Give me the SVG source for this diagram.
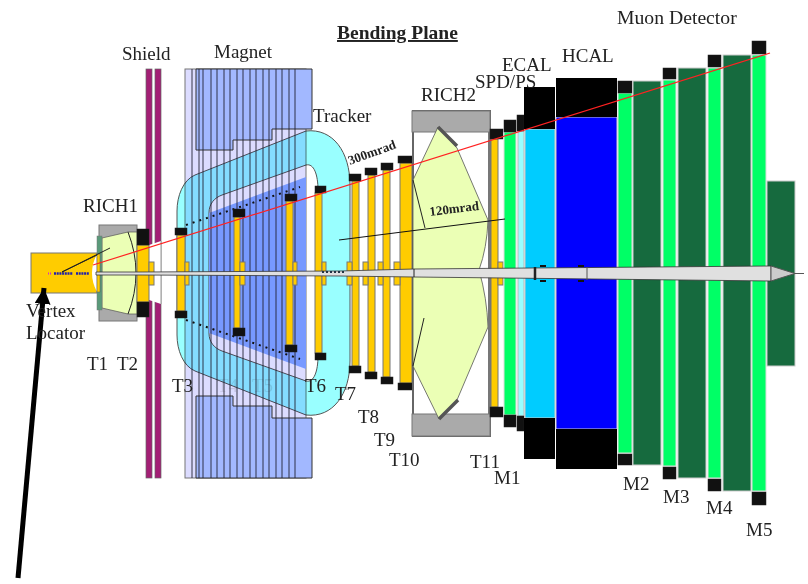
<svg xmlns="http://www.w3.org/2000/svg" width="808" height="584" viewBox="0 0 808 584">
<style>
text{font-family:"Liberation Serif","Times New Roman",serif;font-size:19px;fill:#222}
.y{fill:#fc0;stroke:#777;stroke-width:1}
.k{fill:#111;stroke:#222;stroke-width:.5}
.g{fill:#0f6;stroke:#ddd;stroke-width:1}
.d{fill:#166a3e;stroke:#ccc;stroke-width:1}
.p{fill:#a31f75;stroke:#666;stroke-width:.7}
.ln{fill:none;stroke:#222;stroke-width:1}
.b{font-weight:bold}
</style>
<defs>
<marker id="head" markerUnits="userSpaceOnUse" markerWidth="18" markerHeight="18" refX="16" refY="8" orient="auto"><path d="M0 0L16 8L0 16Z" fill="#000"/></marker>
</defs>
<rect width="808" height="584" fill="#fff"/>
<g id="shield">
<rect class="p" x="146" y="69" width="6" height="409"/>
<rect class="p" x="155" y="69" width="6" height="409"/>
<path d="M149 245L161 241V304L149 300Z" fill="#fff"/>
<path d="M161 241V304" stroke="#999" fill="none"/>
</g>
<g id="tracker">
<path fill-rule="evenodd" fill="#9ff" stroke="#555" stroke-width="1" d="M306 131C333 128 350 152 350 185L350 361C350 394 333 418 306 415L195 371C183 366 177 350 177 335L177 211C177 196 183 180 195 175ZM306 165C314 163 318 175 318 190L318 356C318 371 314 383 306 381L222 351C214 348 209 342 209 333L209 213C209 204 214 198 222 195Z"/>
</g>
<g id="magnet" style="mix-blend-mode:multiply">
<rect x="185" y="69" width="121" height="409" fill="#dcdcff" stroke="#777"/>
<path d="M196 69V150H233V140H272V129H312V69Z" fill="#a2b8ff" stroke="#333"/>
<path d="M196 478V396H233V406H272V418H312V478Z" fill="#a2b8ff" stroke="#333"/>
</g>
<path id="inner-blue" d="M209 213L306 177V369L209 333Z" fill="#7799ff"/>
<path id="stripes" fill="none" stroke="#223" stroke-width=".9" d="M192 69V478M199 69V478M203 69V478M211 69V478M217 69V478M224 69V478M230 69V478M237 69V478M243 69V478M250 69V478M256 69V478M263 69V478M269 69V478M276 69V478M282 69V478M289 69V478M295 69V478"/>
<path id="dots" fill="none" stroke="#111" stroke-width="2" stroke-dasharray="2 5" d="M186 225L300 187M186 320L300 359"/>
<g id="vertex-locator">
<rect x="31" y="253" width="66" height="40" fill="#fc0" stroke="#777"/>
<path d="M97 254Q87 273 97 292Z" fill="#fff"/>
<path d="M48 273.500H52" stroke="#c3c" stroke-width="2" stroke-dasharray="1 1" fill="none"/>
<path d="M54 273.500H73M76 273.500H89" stroke="#22a" stroke-width="2.500" stroke-dasharray="2 .7" fill="none"/>
</g>
<g id="rich1">
<rect x="99" y="225" width="38" height="96" fill="#aaa" stroke="#777"/>
<path d="M102 238L128 232H137V314H128L102 308Z" fill="#ebffb5" stroke="#555" stroke-width=".7"/>
<path class="ln" d="M128 232Q144 273 128 314" stroke-width=".7"/>
<rect x="97" y="236" width="5" height="74" fill="#5a9a7a" stroke="#777" stroke-width=".5"/>
<rect x="97" y="254" width="3" height="38" fill="#fc0" stroke="#555" stroke-width=".5"/>
<path class="ln" d="M62 272L97 255M62 272L110 248"/>
</g>
<g id="t1-t2">
<rect class="y" x="137" y="245" width="12" height="57"/>
<rect class="k" x="137" y="229" width="12" height="16" fill="#000"/>
<rect class="k" x="137" y="302" width="12" height="15"/>
<rect class="y" x="149" y="262" width="5" height="23"/>
</g>
<g id="t3"><rect class="y" x="177" y="235" width="8" height="76"/><rect class="y" x="185" y="262" width="4" height="23"/><rect class="k" x="175" y="228" width="12" height="7"/><rect class="k" x="175" y="311" width="12" height="7"/></g>
<g id="t4"><rect class="y" x="234" y="217" width="6" height="111"/><rect class="y" x="240" y="262" width="5" height="23"/><rect class="k" x="233" y="209" width="12" height="8"/><rect class="k" x="233" y="328" width="12" height="8"/></g>
<g id="t5"><rect class="y" x="286" y="201" width="7" height="144"/><rect class="y" x="293" y="262" width="4" height="23"/><rect class="k" x="285" y="194" width="12" height="7"/><rect class="k" x="285" y="345" width="12" height="7"/></g>
<g id="t6"><rect class="y" x="315" y="193" width="7" height="160"/><rect class="y" x="322" y="262" width="4" height="23"/><rect class="k" x="315" y="186" width="11" height="7"/><rect class="k" x="315" y="353" width="11" height="7"/></g>
<g id="t7"><rect class="y" x="352" y="181" width="7" height="185"/><rect class="y" x="347" y="262" width="5" height="23"/><rect class="k" x="349" y="174" width="12" height="7"/><rect class="k" x="349" y="366" width="12" height="7"/></g>
<g id="t8"><rect class="y" x="368" y="175" width="7" height="197"/><rect class="y" x="363" y="262" width="5" height="23"/><rect class="k" x="365" y="168" width="12" height="7"/><rect class="k" x="365" y="372" width="12" height="7"/></g>
<g id="t9"><rect class="y" x="383" y="170" width="7" height="207"/><rect class="y" x="378" y="262" width="5" height="23"/><rect class="k" x="381" y="163" width="12" height="7"/><rect class="k" x="381" y="377" width="12" height="7"/></g>
<g id="t10"><rect class="y" x="400" y="163" width="12" height="220"/><rect class="y" x="394" y="262" width="6" height="23"/><rect class="k" x="398" y="156" width="14" height="7"/><rect class="k" x="398" y="383" width="14" height="7"/></g>
<g id="rich2">
<rect x="413" y="111" width="77" height="325" fill="#fff" stroke="#666" stroke-width="2"/>
<rect x="412" y="111" width="78" height="21" fill="#aaa" stroke="#777"/>
<rect x="412" y="414" width="78" height="22" fill="#aaa" stroke="#777"/>
<path d="M413 180L438 127L457 148L488 220Q487 248 479 270Q487 298 488 327L457 400L439 419L413 366Z" fill="#ebffb5" stroke="#555" stroke-width=".8"/>
<path class="ln" d="M413 180L425 228M413 366L424 318" stroke-width=".8"/>
<path d="M438 127L457 146M439 419L458 400" stroke="#555" stroke-width="3.500" fill="none"/>
</g>
<g id="t11"><rect x="488" y="132" width="3" height="282" fill="#777"/><rect class="y" x="491" y="139" width="7" height="268"/><rect class="y" x="498" y="262" width="5" height="23"/><rect class="k" x="490" y="129" width="13" height="10"/><rect class="k" x="490" y="407" width="13" height="10"/></g>
<g id="m1"><rect class="g" x="504" y="132" width="12" height="283"/><rect class="k" x="504" y="120" width="12" height="12"/><rect class="k" x="504" y="415" width="12" height="12"/></g>
<g id="spd-ps"><rect x="518" y="131" width="6" height="285" fill="#9ff" stroke="#bbb"/><rect class="k" x="517" y="115" width="7" height="16"/><rect class="k" x="517" y="416" width="7" height="15"/></g>
<g id="ecal"><rect x="525" y="129" width="30" height="289" fill="#0cf" stroke="#ccc"/><rect x="524" y="87" width="31" height="42" fill="#000"/><rect x="524" y="418" width="31" height="41" fill="#000"/></g>
<g id="hcal"><rect x="556" y="117" width="61" height="312" fill="#00f" stroke="#ccc"/><rect x="556" y="78" width="61" height="39" fill="#000"/><rect x="556" y="429" width="61" height="40" fill="#000"/></g>
<g id="muon">
<rect class="g" x="618" y="93" width="14" height="360"/><rect class="k" x="618" y="81" width="14" height="12"/><rect class="k" x="618" y="454" width="14" height="11"/>
<rect class="d" x="633" y="81" width="28" height="384"/>
<rect class="g" x="663" y="80" width="13" height="386"/><rect class="k" x="663" y="68" width="13" height="11"/><rect class="k" x="663" y="467" width="13" height="12"/>
<rect class="d" x="678" y="68" width="28" height="410"/>
<rect class="g" x="708" y="68" width="13" height="410"/><rect class="k" x="708" y="55" width="13" height="12"/><rect class="k" x="708" y="479" width="13" height="12"/>
<rect class="d" x="723" y="55" width="28" height="436"/>
<rect class="g" x="752" y="55" width="14" height="436"/><rect class="k" x="752" y="41" width="14" height="13"/><rect class="k" x="752" y="492" width="14" height="13"/>
<rect class="d" x="767" y="181" width="28" height="185"/>
</g>
<g id="beam">
<path d="M96 272H140L340 271L414 269L771 266V281L414 277L340 276L140 275H96Z" fill="#e0e0e0" stroke="#333" stroke-width=".8"/>
<path d="M771 266L795 273.500L771 281Z" fill="#ccc" stroke="#555"/>
<path d="M795 273.500H804" stroke="#555"/>
<path d="M535 267V280" stroke="#222" stroke-width="2.500"/>
<path d="M587 267V280" stroke="#555" stroke-width="1"/>
<path d="M414 269V277" stroke="#222"/>
<path d="M540 266H546M540 281H546M578 266H584M578 281H584" stroke="#111" stroke-width="2"/>
<path d="M322 272H345" stroke="#234" stroke-width="2" stroke-dasharray="2 2"/>
</g>
<g id="connectors">
<path d="M93 265L770 53" stroke="#f22" stroke-width="1.200" fill="none"/>
<path d="M339 240L505 219" stroke="#111" stroke-width="1" fill="none"/>
<path d="M18 578L44 288" stroke="#000" stroke-width="5" fill="none" marker-end="url(#head)"/>
</g>
<g id="labels">
<text style="font-size:19.700px" x="617" y="24">Muon Detector</text>
<text class="b" style="font-size:19.500px" x="337" y="39" text-decoration="underline">Bending Plane</text>
<text x="122" y="60">Shield</text>
<text x="214" y="58">Magnet</text>
<text x="313" y="122">Tracker</text>
<text x="83" y="212">RICH1</text>
<text x="26" y="317">Vertex</text>
<text x="26" y="339">Locator</text>
<text x="87" y="370">T1</text>
<text x="117" y="370">T2</text>
<text x="172" y="392">T3</text>
<text x="217" y="392" opacity=".12">T4</text>
<text x="252" y="392" opacity=".12">T5</text>
<text x="305" y="392">T6</text>
<text x="335" y="400">T7</text>
<text x="358" y="423">T8</text>
<text x="374" y="446">T9</text>
<text x="389" y="466">T10</text>
<text x="470" y="468">T11</text>
<text x="494" y="484">M1</text>
<text x="623" y="490">M2</text>
<text x="663" y="503">M3</text>
<text x="706" y="514">M4</text>
<text x="746" y="536">M5</text>
<text x="421" y="101">RICH2</text>
<text x="502" y="71">ECAL</text>
<text x="475" y="88">SPD/PS</text>
<text x="562" y="62">HCAL</text>
<text class="b" style="font-size:13px" transform="translate(350 165) rotate(-20)">300mrad</text>
<text class="b" style="font-size:13px" transform="translate(430 216) rotate(-7)">120mrad</text>
</g>
</svg>
